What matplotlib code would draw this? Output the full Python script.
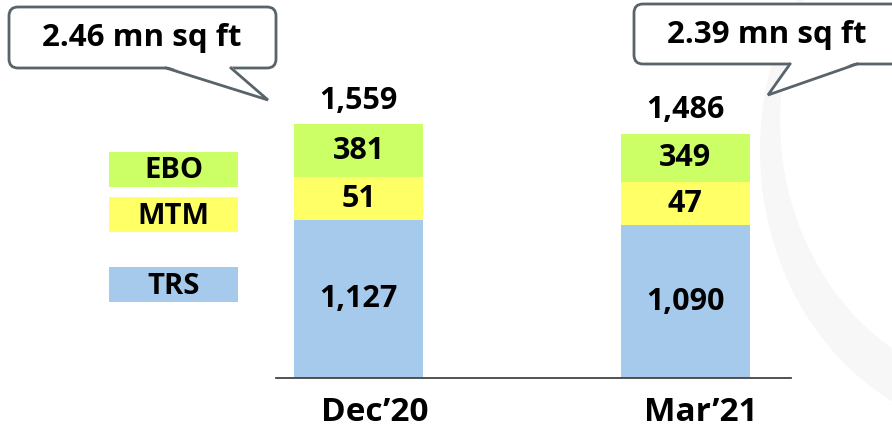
import matplotlib.pyplot as plt
from matplotlib.patches import FancyBboxPatch, Polygon, Rectangle, Ellipse

# Data.
periods = ["Dec\u201920", "Mar\u201921"]
trs = [1127, 1090]
mtm = [51, 47]
ebo = [381, 349]
totals = [1559, 1486]
area_labels = ["2.46 mn sq ft", "2.39 mn sq ft"]
series_names = ["EBO", "MTM", "TRS"]

# Style.
C_EBO = "#CCFF66"
C_MTM = "#FFFF66"
C_TRS = "#A6CAEC"
EDGE = "#58646A"
MIN_SEG = 307  # small segments drawn at a minimum visible height (as in source slide)
FONT = "Open Sans"
FS = 22

plt.rcParams["font.family"] = [FONT, "DejaVu Sans"]
plt.rcParams["font.weight"] = "bold"

W, H = 892, 428
fig = plt.figure(figsize=(W / 100, H / 100), dpi=100)

# Overlay axes in pixel coords for decorations (callouts, legend tiles).
deco = fig.add_axes([0, 0, 1, 1])
deco.set_xlim(0, W)
deco.set_ylim(H, 0)
deco.axis("off")

# Faint background crescent at the right (slide decoration).
deco.add_patch(Ellipse((1010, 150), 500, 570, fc="#F7F7F7", ec="none", zorder=0))
deco.add_patch(Ellipse((1020, 120), 480, 540, fc="white", ec="none", zorder=0))

# Bar axes.
k = 0.14  # px per unit
ax = fig.add_axes([276 / W, 50 / H, 515 / W, 378 / H])
ax.set_ylim(0, 378 / k)
step = 326.5
ax.set_xlim((276 - 358.5) / step, (791 - 358.5) / step)
ax.patch.set_alpha(0)

x = [0, 1]
bw = 129 / step
mtm_h = [max(v, MIN_SEG) for v in mtm]
ebo_h = [max(v, MIN_SEG) for v in ebo]
b1 = ax.bar(x, trs, width=bw, color=C_TRS)
b2 = ax.bar(x, mtm_h, width=bw, bottom=trs, color=C_MTM)
bot3 = [a + b for a, b in zip(trs, mtm_h)]
b3 = ax.bar(x, ebo_h, width=bw, bottom=bot3, color=C_EBO)

ax.bar_label(b1, labels=[f"{v:,}" for v in trs], label_type="center", fontsize=FS, fontweight="bold")
ax.bar_label(b2, labels=[f"{v:,}" for v in mtm], label_type="center", fontsize=FS, fontweight="bold")
ax.bar_label(b3, labels=[f"{v:,}" for v in ebo], label_type="center", fontsize=FS, fontweight="bold")
ax.bar_label(b3, labels=[f"{v:,}" for v in totals], padding=6, fontsize=FS, fontweight="bold")

for s in ["top", "left", "right"]:
    ax.spines[s].set_visible(False)
ax.spines["bottom"].set_color("#444444")
ax.spines["bottom"].set_linewidth(1.3)
ax.set_yticks([])
# category labels sit a little right of bar centre in the source
lab_off = 16 / step
ax.set_xticks([i + lab_off for i in x], periods, fontsize=24, fontweight="bold")
ax.tick_params(axis="x", length=0, pad=13)

# Legend tiles.
tiles = {"EBO": (152, C_EBO), "MTM": (197, C_MTM), "TRS": (267, C_TRS)}
for name in series_names:
    y0, c = tiles[name]
    deco.add_patch(Rectangle((109, y0), 129, 35, color=c, lw=0))
    deco.text(173.5, y0 + 19, name, ha="center", va="center", fontsize=21, fontweight="bold")


# Speech-bubble callouts.
def callout(x0, y0, x1, y1, tail, text, tx, ty):
    deco.add_patch(FancyBboxPatch((x0, y0), x1 - x0, y1 - y0,
                                  boxstyle="round,pad=0,rounding_size=9",
                                  fc="white", ec=EDGE, lw=2, zorder=3))
    (bl, br, tip) = tail
    deco.add_patch(Polygon([(bl, y1 - 2), (br, y1 - 2), tip], closed=True,
                           fc="white", ec="none", zorder=4))
    deco.plot([bl, tip[0], br], [y1, tip[1], y1], color=EDGE, lw=2, zorder=5,
              solid_joinstyle="miter")
    deco.text(tx, ty, text, ha="center", va="center", fontsize=22.5,
              fontweight="bold", zorder=6)


callout(9, 7, 276, 68, (166, 231, (268, 100)), area_labels[0], 142, 38)
callout(634, 4, 905, 64, (790, 857, (768, 95)), area_labels[1], 767, 35)

fig.savefig("out.png", dpi=100)
